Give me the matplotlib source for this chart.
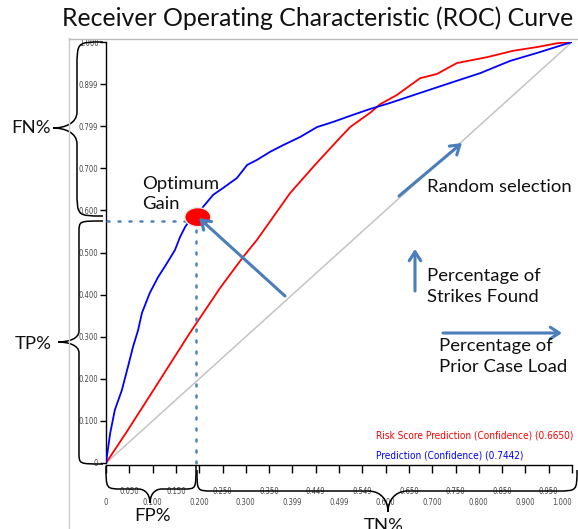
import matplotlib
matplotlib.use("Agg")
import matplotlib.pyplot as plt
from matplotlib import font_manager as fm
from matplotlib.path import Path
from matplotlib.patches import PathPatch, Ellipse, FancyArrowPatch
from matplotlib.lines import Line2D

# ---------------- data ----------------
blue_fpr = [0.0, 0.009, 0.019, 0.034, 0.047, 0.058, 0.069, 0.077, 0.094, 0.112, 0.131,
            0.148, 0.159, 0.170, 0.180, 0.197, 0.208, 0.230, 0.251, 0.281, 0.303, 0.324,
            0.352, 0.380, 0.416, 0.453, 0.487, 0.530, 0.567, 0.609, 0.674, 0.745, 0.803,
            0.867, 0.925, 1.0]
blue_tpr = [0.0, 0.071, 0.126, 0.173, 0.228, 0.276, 0.316, 0.356, 0.404, 0.442, 0.475,
            0.506, 0.537, 0.561, 0.577, 0.590, 0.608, 0.637, 0.653, 0.677, 0.708, 0.720,
            0.739, 0.755, 0.774, 0.798, 0.810, 0.827, 0.841, 0.855, 0.879, 0.905, 0.926,
            0.955, 0.974, 1.0]
red_fpr = [0.0, 0.045, 0.100, 0.180, 0.245, 0.294, 0.324, 0.395, 0.450, 0.500, 0.524,
           0.567, 0.588, 0.624, 0.674, 0.710, 0.753, 0.818, 0.873, 0.925, 0.968, 1.0]
red_tpr = [0.0, 0.075, 0.170, 0.309, 0.416, 0.489, 0.530, 0.641, 0.710, 0.770, 0.798,
           0.832, 0.852, 0.874, 0.914, 0.924, 0.950, 0.964, 0.979, 0.988, 0.997, 1.0]
optimum = (0.197, 0.584)

y_ticks = [0.0, 0.1, 0.2, 0.3, 0.4, 0.5, 0.6, 0.7, 0.8, 0.9, 1.0]
y_labels = ["0", "0.100", "0.200", "0.300", "0.400", "0.500", "0.600", "0.700",
            "0.799", "0.899", "1.000"]
x_major = [0.0, 0.1, 0.2, 0.3, 0.4, 0.5, 0.6, 0.7, 0.8, 0.9, 1.0]
x_major_labels = ["0", "0.100", "0.200", "0.300", "0.399", "0.499", "0.600", "0.700",
                  "0.800", "0.900", "1.000"]
x_minor = [0.05, 0.15, 0.25, 0.35, 0.45, 0.55, 0.65, 0.75, 0.85, 0.95]
x_minor_labels = ["0.050", "0.150", "0.250", "0.350", "0.449", "0.549", "0.650",
                  "0.750", "0.850", "0.950"]

title = "Receiver Operating Characteristic (ROC) Curve"
red_name = "Risk Score Prediction (Confidence) (0.6650)"
blue_name = "Prediction (Confidence) (0.7442)"

# ---------------- fonts ----------------
def find_narrow():
    for f in fm.fontManager.ttflist:
        if f.name == "Liberation Sans Narrow" and f.style == "normal" and \
                "Bold" not in f.fname and "Italic" not in f.fname:
            return f.fname
    for f in fm.fontManager.ttflist:
        if f.name == "DejaVu Sans" and "ondensed" in f.fname and "Bold" not in f.fname \
                and "Oblique" not in f.fname:
            return f.fname
    return None

nf = find_narrow()
def NP(size):
    if nf:
        return fm.FontProperties(fname=nf, size=size)
    return fm.FontProperties(family="Liberation Sans", size=size)

# ---------------- figure ----------------
W, H = 578, 529
fig = plt.figure(figsize=(W / 100, H / 100), dpi=100)
plt.rcParams['font.family'] = ['Lato', 'DejaVu Sans']
renderer = fig.canvas.get_renderer()

def F(x, y):
    return (x / W, 1 - y / H)

def fit(txt, target_px):
    w = txt.get_window_extent(renderer).width
    if w > 0:
        txt.set_fontsize(txt.get_fontsize() * target_px / w)
    return txt.get_fontsize()

# size for tick labels: "0.899" about 19.5 px wide
probe = fig.text(0.5, 0.5, "0.899", fontproperties=NP(7))
tick_size = fit(probe, 19.5)
probe.remove()

ax = fig.add_axes([106 / W, 1 - 463 / H, 466 / W, 421 / H])
ax.set_xlim(0, 1)
ax.set_ylim(0, 1)
for s in ["top", "right"]:
    ax.spines[s].set_visible(False)
for s in ["left", "bottom"]:
    ax.spines[s].set_linewidth(1.0)
    ax.spines[s].set_color("black")
ax.spines["bottom"].set_position(("data", -0.005))

tick_c = "#4a4a4a"
ax.set_yticks(y_ticks)
ax.set_yticklabels(y_labels, fontproperties=NP(tick_size), color=tick_c)
ax.tick_params(axis="y", direction="out", length=4, width=1, pad=1.5)
ax.set_xticks(x_major)
ax.set_xticklabels(x_major_labels, fontproperties=NP(tick_size), color=tick_c)
ax.set_xticks(x_minor, minor=True)
ax.set_xticklabels(x_minor_labels, minor=True, fontproperties=NP(tick_size), color=tick_c)
ax.tick_params(axis="x", which="major", direction="out", length=6, width=1, pad=17.5)
ax.tick_params(axis="x", which="minor", direction="out", length=6, width=1, pad=9.5)
ax.get_xticklabels()[-1].set_ha("right")

ax.plot([0, 1], [0, 1], color="#c4c4c4", lw=1.1, zorder=1)
ax.plot(red_fpr, red_tpr, color="#ff0000", lw=1.3, zorder=2)
ax.plot(blue_fpr, blue_tpr, color="#0000ff", lw=1.3, zorder=3)

dot_c = "#4f81bd"
ax.plot([0.003, optimum[0] - 0.025], [optimum[1] - 0.008, optimum[1] - 0.008], color=dot_c,
        lw=1.8, ls=(0, (0.8, 3.6)), dash_capstyle="round", clip_on=False, zorder=4)
ax.plot([optimum[0] - 0.004, optimum[0] - 0.004], [optimum[1] - 0.03, -0.02], color=dot_c,
        lw=1.8, ls=(0, (0.8, 3.6)), dash_capstyle="round", clip_on=False, zorder=4)

ax.add_patch(Ellipse(optimum, 26 / 466, 19 / 421, facecolor="#ff0000",
                     edgecolor="#e8e8e8", lw=1.0, zorder=5))

# legend-like texts
t_red = fig.text(*F(376, 435), red_name, color="#ff0000", fontproperties=NP(8),
                 va="center", ha="left")
t_blue = fig.text(*F(376, 455), blue_name, color="#0000ff", fontproperties=NP(8),
                  va="center", ha="left")
leg_size = fit(t_red, 197)
t_blue.set_fontsize(leg_size)

big = 13.3
t_title = fig.text(*F(318, 18), title, fontsize=17.8, ha="center", va="center",
                   color="#111111")
fit(t_title, 513)
fig.text(*F(142, 194), "Optimum\nGain", fontsize=big, ha="left", va="center",
         linespacing=1.3, color="#111111")
fig.text(*F(427, 187), "Random selection", fontsize=big, ha="left", va="center", color="#111111")
fig.text(*F(427, 286.5), "Percentage of\nStrikes Found", fontsize=big, ha="left", va="center",
         linespacing=1.35, color="#111111")
fig.text(*F(439, 356.5), "Percentage of\nPrior Case Load", fontsize=big, ha="left", va="center",
         linespacing=1.35, color="#111111")
fig.text(*F(31, 128), "FN%", fontsize=big, ha="center", va="center", color="#111111")
fig.text(*F(33, 344), "TP%", fontsize=big, ha="center", va="center", color="#111111")
fig.text(*F(153, 516), "FP%", fontsize=big, ha="center", va="center", color="#111111")
fig.text(*F(384, 526), "TN%", fontsize=big, ha="center", va="center", color="#111111")

# arrows
arr_c = "#4a7ebb"
def open_arrow(x0, y0, x1, y1):
    a = FancyArrowPatch(F(x0, y0), F(x1, y1), transform=fig.transFigure,
                        arrowstyle="->,head_length=4,head_width=2.6", color=arr_c,
                        lw=2.2, mutation_scale=1.6, shrinkA=0, shrinkB=0)
    fig.add_artist(a)

open_arrow(285, 296, 199, 218)
open_arrow(399, 196, 462, 143)
open_arrow(415, 291, 415, 249)
open_arrow(443, 333, 562, 333)

# frame lines
fig.add_artist(Line2D([69 / W, 69 / W], [1 - 38 / H, 0], color="#cccccc", lw=1,
                      transform=fig.transFigure))
fig.add_artist(Line2D([69 / W, 1], [1 - 38.5 / H, 1 - 38.5 / H], color="#bbbbbb", lw=1,
                      transform=fig.transFigure))

# braces
CODES = [Path.MOVETO] + [Path.CURVE4] * 3 + [Path.LINETO] + [Path.CURVE4] * 6 + \
        [Path.LINETO] + [Path.CURVE4] * 3

def vbrace(x_end, x_line, x_tip, y_top, y_mid, y_bot, r_end, r_mid):
    pts = [(x_end, y_top),
           (x_line, y_top), (x_line, y_top), (x_line, y_top + r_end),
           (x_line, y_mid - r_mid),
           (x_line, y_mid - r_mid * 0.3), ((x_line + x_tip) / 2, y_mid), (x_tip, y_mid),
           ((x_line + x_tip) / 2, y_mid), (x_line, y_mid + r_mid * 0.3), (x_line, y_mid + r_mid),
           (x_line, y_bot - r_end),
           (x_line, y_bot), (x_line, y_bot), (x_end, y_bot)]
    p = Path([F(*q) for q in pts], CODES)
    fig.add_artist(PathPatch(p, fill=False, lw=1.1, edgecolor="black",
                             transform=fig.transFigure))

def hbrace(y_end, y_line, y_tip, x_left, x_mid, x_right, r_l, r_r, r_mid):
    pts = [(x_left, y_end),
           (x_left, y_line), (x_left, y_line), (x_left + r_l, y_line),
           (x_mid - r_mid, y_line),
           (x_mid - r_mid * 0.3, y_line), (x_mid, (y_line + y_tip) / 2), (x_mid, y_tip),
           (x_mid, (y_line + y_tip) / 2), (x_mid + r_mid * 0.3, y_line), (x_mid + r_mid, y_line),
           (x_right - r_r, y_line),
           (x_right, y_line), (x_right, y_line), (x_right, y_end)]
    p = Path([F(*q) for q in pts], CODES)
    fig.add_artist(PathPatch(p, fill=False, lw=1.1, edgecolor="black",
                             transform=fig.transFigure))

vbrace(103, 77, 53, 42, 128, 216, 26, 16)
vbrace(103, 79, 58, 221, 342, 464, 11, 11)
hbrace(466, 489, 503, 106, 150, 196, 16, 12, 12)
hbrace(470, 491, 512, 197, 388, 577, 15, 20, 20)

fig.savefig("out.png", dpi=100)
